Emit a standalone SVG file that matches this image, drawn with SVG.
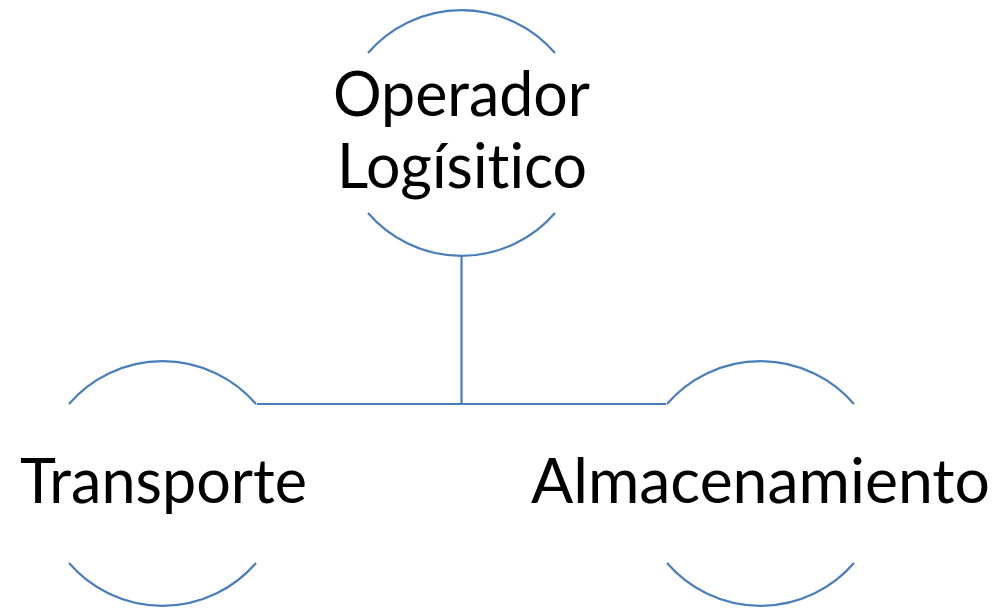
<svg xmlns="http://www.w3.org/2000/svg" width="995" height="609" viewBox="0 0 995 609">
<style>
.arc{fill:none;stroke:#4a7ebb;stroke-width:2.2}
.conn{fill:none;stroke:#4a7ebb;stroke-width:2.2}
.lbl{font-family:"Lato","Liberation Sans",sans-serif;font-size:61px;fill:#000;text-anchor:middle;font-variant-ligatures:none;font-feature-settings:"liga" 0,"clig" 0}
</style>
<rect width="995" height="609" fill="#fff"/>
<g id="connectors">
<path class="conn" d="M461.5 257 V404 M257 404 H666"/>
</g>
<g id="node-operador">
<path class="arc" d="M368 53 A123.5 123.5 0 0 1 555 53"/>
<path class="arc" d="M368 213 A123.5 123.5 0 0 0 555 213"/>
<text class="lbl" x="461.5" y="116" textLength="257" lengthAdjust="spacingAndGlyphs">Operador</text>
<text class="lbl" x="462" y="188" textLength="250" lengthAdjust="spacingAndGlyphs">Logísitico</text>
</g>
<g id="node-transporte">
<path class="arc" d="M69 404 A123.5 123.5 0 0 1 256 404"/>
<path class="arc" d="M69 563 A123.5 123.5 0 0 0 256 563"/>
<text class="lbl" x="163.5" y="503" textLength="287" lengthAdjust="spacingAndGlyphs">Transporte</text>
</g>
<g id="node-almacenamiento">
<path class="arc" d="M667 404 A123.5 123.5 0 0 1 854 404"/>
<path class="arc" d="M667 563 A123.5 123.5 0 0 0 854 563"/>
<text class="lbl" x="760.5" y="503" textLength="459" lengthAdjust="spacingAndGlyphs">Almacenamiento</text>
</g>
</svg>
